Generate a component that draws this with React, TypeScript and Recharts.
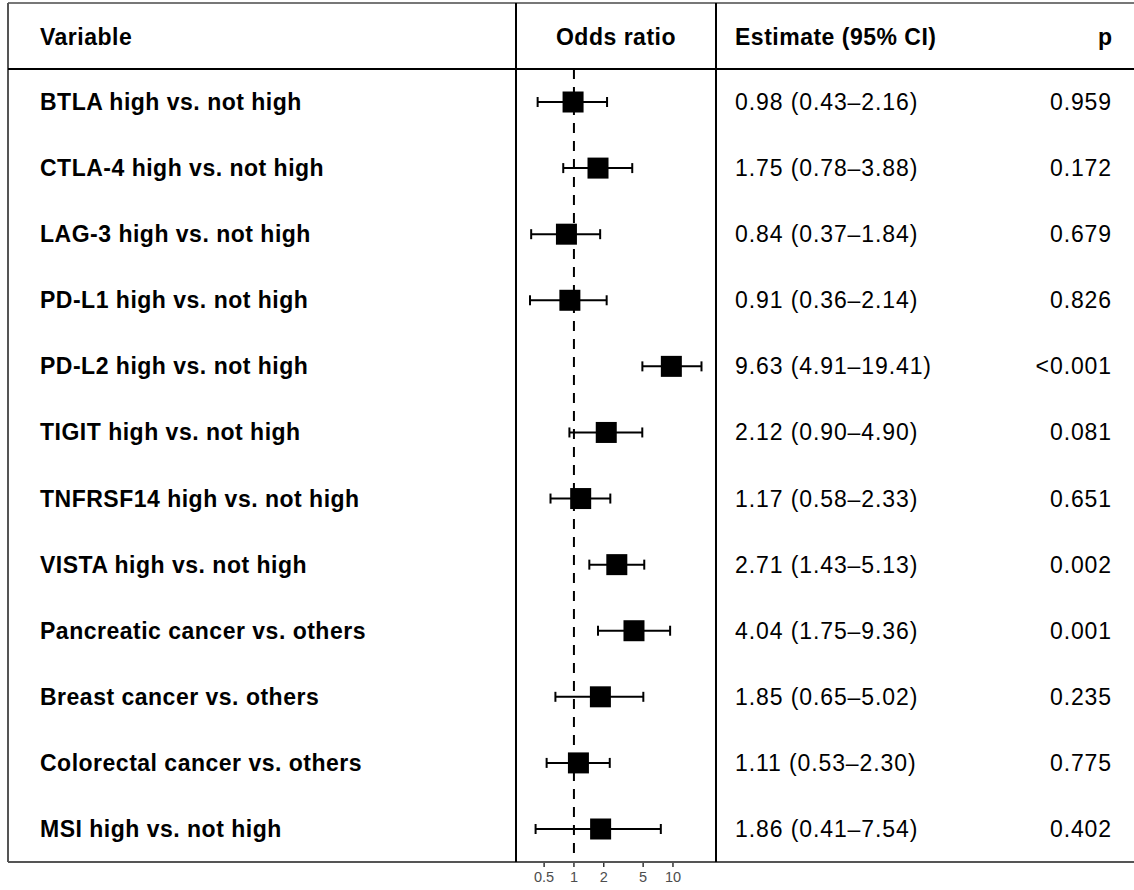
import React from 'react';
import { ComposedChart, Scatter, ErrorBar, XAxis, YAxis, ReferenceLine } from 'recharts';

const variables = [
  'BTLA high vs. not high',
  'CTLA-4 high vs. not high',
  'LAG-3 high vs. not high',
  'PD-L1 high vs. not high',
  'PD-L2 high vs. not high',
  'TIGIT high vs. not high',
  'TNFRSF14 high vs. not high',
  'VISTA high vs. not high',
  'Pancreatic cancer vs. others',
  'Breast cancer vs. others',
  'Colorectal cancer vs. others',
  'MSI high vs. not high',
];
const estimates = [0.98, 1.75, 0.84, 0.91, 9.63, 2.12, 1.17, 2.71, 4.04, 1.85, 1.11, 1.86];
const lower = [0.43, 0.78, 0.37, 0.36, 4.91, 0.9, 0.58, 1.43, 1.75, 0.65, 0.53, 0.41];
const upper = [2.16, 3.88, 1.84, 2.14, 19.41, 4.9, 2.33, 5.13, 9.36, 5.02, 2.3, 7.54];
const pValues = ['0.959', '0.172', '0.679', '0.826', '<0.001', '0.081', '0.651', '0.002', '0.001', '0.235', '0.775', '0.402'];
const xTicks = [0.5, 1, 2, 5, 10];

const W = 1134;
const H = 890;
const FONT = '"Liberation Sans", Arial, sans-serif';
const ROW_PAD = 33;

const fmt = (v: number) => v.toFixed(2);

const rows = variables.map((name, i) => ({
  name,
  or: estimates[i],
  err: [estimates[i] - lower[i], upper[i] - estimates[i]],
  ci: `${fmt(estimates[i])} (${fmt(lower[i])}–${fmt(upper[i])})`,
  p: pValues[i],
}));

const txt = { fontFamily: FONT, fontSize: 23, fill: '#000' };

const LabelTick = (props: any) => (
  <text x={40} y={props.y} dy={8} {...txt} letterSpacing={0.5} fontWeight="bold" textAnchor="start">
    {props.payload.value}
  </text>
);

const ValueTick = (props: any) => {
  const row = rows.find(r => r.name === props.payload.value);
  if (!row) return null;
  return (
    <g>
      <text x={735} y={props.y} dy={8} {...txt} letterSpacing={0.9} textAnchor="start">{row.ci}</text>
      <text x={1112} y={props.y} dy={8} {...txt} letterSpacing={0.9} textAnchor="end">{row.p}</text>
    </g>
  );
};

const OrTick = (props: any) => (
  <text x={props.x} y={props.y} dy={12} textAnchor="middle" fontFamily={FONT} fontSize={14.5} fill="#4d4d4d">
    {props.payload.value}
  </text>
);

const Box = (p: any) => <rect x={p.cx - 10.5} y={p.cy - 10.5} width={21} height={21} fill="#000" />;

export default function App() {
  return (
    <div style={{ position: 'absolute', left: 0, top: 0, width: W, height: H, background: '#fff' }}>
      <ComposedChart
        width={W}
        height={H}
        data={rows}
        layout="vertical"
        margin={{ top: 69, right: 0, bottom: 0, left: 0 }}
      >
        <XAxis
          type="number"
          dataKey="or"
          scale="log"
          domain={[0.26, 27.2]}
          allowDataOverflow
          ticks={xTicks}
          height={28}
          axisLine={false}
          tickLine={{ stroke: '#333', strokeWidth: 1.5 }}
          tickSize={5}
          tickMargin={3}
          tick={<OrTick />}
          interval={0}
        />
        <YAxis
          yAxisId="left"
          type="category"
          dataKey="name"
          width={516}
          padding={{ top: ROW_PAD, bottom: ROW_PAD }}
          axisLine={false}
          tickLine={false}
          tick={<LabelTick />}
          interval={0}
        />
        <YAxis
          yAxisId="right"
          orientation="right"
          type="category"
          dataKey="name"
          width={418}
          padding={{ top: ROW_PAD, bottom: ROW_PAD }}
          axisLine={false}
          tickLine={false}
          tick={<ValueTick />}
          interval={0}
        />
        <ReferenceLine yAxisId="left" x={1} stroke="#000" strokeWidth={2} strokeDasharray="10 8" strokeDashoffset={-9} />
        <Scatter yAxisId="left" dataKey="or" shape={Box} isAnimationActive={false}>
          <ErrorBar dataKey="err" direction="x" width={5} stroke="#000" strokeWidth={2} isAnimationActive={false} />
        </Scatter>
      </ComposedChart>
      <svg
        width={W}
        height={H}
        style={{ position: 'absolute', left: 0, top: 0, pointerEvents: 'none' }}
      >
        <line x1={8} y1={3} x2={W} y2={3} stroke="#777" strokeWidth={2} />
        <line x1={8} y1={3} x2={8} y2={862} stroke="#555" strokeWidth={2} />
        <line x1={8} y1={862} x2={W} y2={862} stroke="#555" strokeWidth={2} />
        <line x1={8} y1={69} x2={W} y2={69} stroke="#000" strokeWidth={2} />
        <line x1={516} y1={3} x2={516} y2={862} stroke="#000" strokeWidth={2} />
        <line x1={716} y1={3} x2={716} y2={862} stroke="#000" strokeWidth={2} />
        <text x={40} y={45} {...txt} letterSpacing={0.5} fontWeight="bold">Variable</text>
        <text x={616} y={45} {...txt} letterSpacing={0.5} fontWeight="bold" textAnchor="middle">Odds ratio</text>
        <text x={735} y={45} {...txt} letterSpacing={0.5} fontWeight="bold">Estimate (95% CI)</text>
        <text x={1112} y={45} {...txt} fontWeight="bold" textAnchor="end">p</text>
      </svg>
    </div>
  );
}
